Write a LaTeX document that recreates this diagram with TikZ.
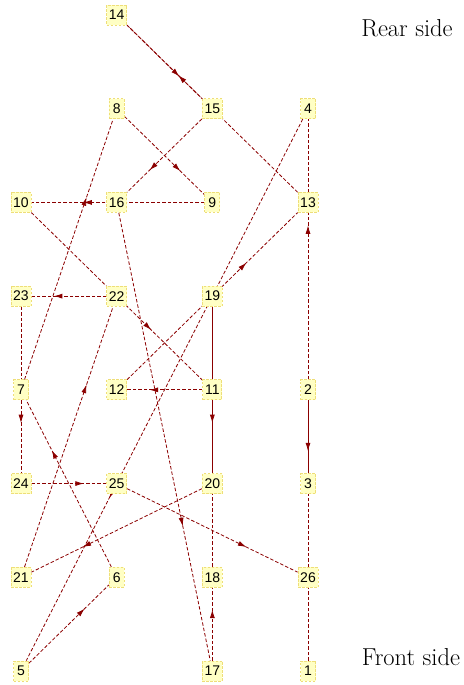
\documentclass[tikz,border=0pt]{standalone}
\usepackage{fontspec}
\newfontfamily\numfont{Liberation Sans}
\usetikzlibrary{arrows.meta,decorations.markings}
\definecolor{edgered}{RGB}{139,0,0}
\definecolor{padfill}{RGB}{255,255,196}
\definecolor{padline}{RGB}{238,222,120}
\pgfdeclarelayer{back}
\pgfsetlayers{back,main}
\begin{document}
\begin{tikzpicture}[x=1pt,y=-1pt,
 pad/.style={draw=padline,fill=padfill,line width=.8pt,dash pattern=on 2.5pt off 1.5pt,font=\numfont\fontsize{14}{16}\selectfont,inner xsep=2.2pt,inner ysep=0pt,minimum width=15pt,minimum height=20pt},
 link/.style={edgered,line width=.8pt,dash pattern=on 3.5pt off 2pt,postaction={decorate},decoration={markings,mark=at position .7 with {\arrow{Latex[length=8.5pt,width=5pt]}}}},
 side/.style={anchor=base,font=\fontsize{24.5}{28}\selectfont}]
\useasboundingbox (0,0) rectangle (463,685);
% pads on the grid: label/column/row
\foreach \n/\c/\r in {14/1/0, 8/1/1,15/2/1,4/3/1, 10/0/2,16/1/2,9/2/2,13/3/2,
 23/0/3,22/1/3,19/2/3, 7/0/4,12/1/4,11/2/4,2/3/4, 24/0/5,25/1/5,20/2/5,3/3/5,
 21/0/6,6/1/6,18/2/6,26/3/6, 5/0/7,17/2/7,1/3/7}
 \node[pad] (n\n) at ({21+95.67*\c},{15+93.71*\r}) {\n};
% the thread, 1 to 26
\begin{pgfonlayer}{back}
\foreach \a [evaluate=\a as \b using int(\a+1)] in {1,...,25}
 \draw[link] (n\a) -- (n\b);
\end{pgfonlayer}
\node[side] (rear) at (407,37) {Rear side};
\node[side] (front) at (411,665) {Front side};
\end{tikzpicture}
\end{document}
